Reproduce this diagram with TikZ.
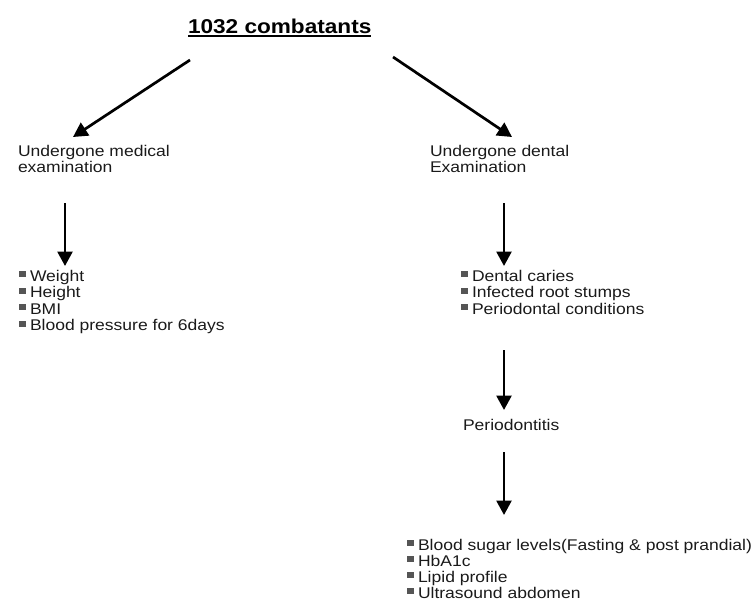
\documentclass[tikz,border=0pt]{standalone}
\usepackage{fontspec}
\setmainfont{Liberation Sans}[FakeStretch=1.13]
\usetikzlibrary{arrows.meta}
\definecolor{txt}{HTML}{1A1A1A}
\definecolor{bul}{HTML}{555555}
\newcommand{\blt}{\textcolor{bul}{\rule[4pt]{6.5pt}{6pt}}\hspace{4.5pt}}
\begin{document}
\begin{tikzpicture}[x=1pt,y=-1pt,
  lbl/.style={inner sep=0pt,outer sep=0pt,anchor=base west,text=txt,font=\fontsize{15.5}{17}\selectfont},
  ttl/.style={inner sep=0pt,outer sep=0pt,anchor=base west,text=black,font=\fontsize{20}{23}\selectfont\bfseries},
  arr/.style={line width=2.7pt,draw=black,-{Triangle[length=14.5pt,width=15pt]}}]
\useasboundingbox (0,0) rectangle (755,605);
% title
\node[ttl] (title) at (188,33) {1032 combatants};
\draw[line width=1.8pt] ([yshift=-2.8pt]title.base west) -- ([yshift=-2.8pt]title.base east);
% left branch
\node[lbl] (med1) at (18,156) {Undergone medical};
\node[lbl] (med2) at (18,172) {examination};
\node[lbl] (w) at (19,281) {\blt Weight};
\node[lbl] (h) at (19,297.5) {\blt Height};
\node[lbl] (bmi) at (19,314) {\blt BMI};
\node[lbl] (bp) at (19,330.5) {\blt Blood pressure for 6days};
% right branch
\node[lbl] (den1) at (430,156) {Undergone dental};
\node[lbl] (den2) at (430,172) {Examination};
\node[lbl] (dc) at (461,281) {\blt Dental caries};
\node[lbl] (irs) at (461,297.5) {\blt Infected root stumps};
\node[lbl] (pc) at (461,314) {\blt Periodontal conditions};
\node[lbl] (perio) at (463,430) {Periodontitis};
\node[lbl] (bs) at (407,550) {\blt Blood sugar levels(Fasting \& post prandial)};
\node[lbl] (hb) at (407,566) {\blt HbA1c};
\node[lbl] (lp) at (407,582) {\blt Lipid profile};
\node[lbl] (us) at (407,598) {\blt Ultrasound abdomen};
% arrow end points
\coordinate (l0) at (190,60);  \coordinate (l1) at (73,137);
\coordinate (r0) at (393,57);  \coordinate (r1) at (512,137);
\coordinate (m0) at (65,203);  \coordinate (m1) at (65,266);
\coordinate (d0) at (504,203); \coordinate (d1) at (504,266);
\coordinate (p0) at (504,350); \coordinate (p1) at (504,410);
\coordinate (q0) at (504,452); \coordinate (q1) at (504,515);
\draw[arr] (l0) -- (l1);
\draw[arr] (r0) -- (r1);
\draw[arr] (m0) -- (m1);
\draw[arr] (d0) -- (d1);
\draw[arr] (p0) -- (p1);
\draw[arr] (q0) -- (q1);
\end{tikzpicture}
\end{document}
